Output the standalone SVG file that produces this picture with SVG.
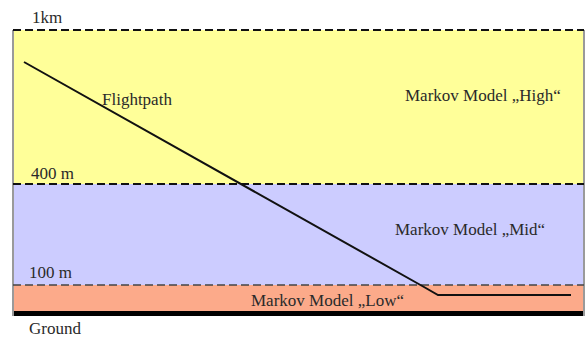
<svg xmlns="http://www.w3.org/2000/svg" width="587" height="341" viewBox="0 0 587 341">
<style>
text{font-family:'Liberation Serif','DejaVu Serif',serif;font-size:17px;fill:#2a2a2a}
.dash{stroke:#111;stroke-width:2;stroke-dasharray:8 4;fill:none}
</style>
<rect width="587" height="341" fill="#ffffff"/>
<g id="band-high"><rect x="13" y="30" width="571" height="154" fill="#ffff99"/></g>
<g id="band-mid"><rect x="13" y="184" width="571" height="101" fill="#ccccff"/></g>
<g id="band-low"><rect x="13" y="285" width="571" height="26" fill="#fcaa8a"/></g>
<g id="ground"><rect x="13" y="311" width="571" height="5" fill="#000"/></g>
<g id="borders" stroke="#9a9a9a" stroke-width="2"><line x1="13" y1="30" x2="13" y2="316"/><line x1="584" y1="30" x2="584" y2="316"/></g>
<g id="levels">
<line class="dash" x1="13" y1="30" x2="584" y2="30"/>
<line class="dash" x1="13" y1="184" x2="584" y2="184"/>
<line class="dash" x1="13" y1="285" x2="584" y2="285" style="stroke:#444;stroke-width:1.5"/>
</g>
<g id="connectors"><polyline id="flightpath" points="24,62 424,287 438,295 571,295" fill="none" stroke="#111" stroke-width="2"/></g>
<g id="labels" font-family="Liberation Serif, serif">
<text x="32" y="23">1km</text>
<text x="102" y="105">Flightpath</text>
<text x="405" y="101">Markov Model „High“</text>
<text x="31" y="179">400 m</text>
<text x="395" y="235">Markov Model „Mid“</text>
<text x="29" y="278">100 m</text>
<text x="251" y="306">Markov Model „Low“</text>
<text x="29" y="334">Ground</text>
</g>
</svg>
